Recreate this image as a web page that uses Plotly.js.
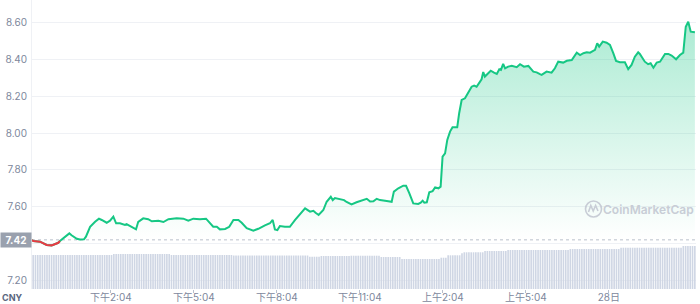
<!DOCTYPE html>
<html>
<head>
<meta charset="utf-8">
<script src="https://cdn.plot.ly/plotly-3.0.1.min.js"></script>
<style>html,body{margin:0;padding:0;background:#fff;}#chart{width:700px;height:304px;}</style>
</head>
<body>
<div id="chart"></div>
<script>
// Hours since 11:13 (27th)
const priceTimes = [
  0, 0.05, 0.29, 0.53, 0.71, 0.95, 1.01, 1.19, 1.35, 1.43,
  1.62, 1.73, 1.88, 1.95, 2.10, 2.28, 2.42, 2.52, 2.70, 2.82,
  2.94, 3.04, 3.18, 3.36, 3.42, 3.60, 3.76, 3.84, 4.02, 4.20,
  4.33, 4.57, 4.75, 4.93, 5.23, 5.47, 5.65, 5.83, 6.07, 6.29,
  6.43, 6.55, 6.68, 6.79, 6.98, 7.13, 7.28, 7.46, 7.58, 7.76,
  8.00, 8.18, 8.42, 8.60, 8.70, 8.78, 8.87, 8.96, 9.14, 9.32,
  9.51, 9.69, 9.87, 10.05, 10.17, 10.25, 10.36, 10.53, 10.65, 10.80,
  10.87, 10.95, 11.13, 11.28, 11.37, 11.55, 11.73, 11.97, 12.10, 12.22,
  12.34, 12.46, 12.58, 12.82, 13.00, 13.08, 13.24, 13.42, 13.52, 13.64,
  13.78, 13.96, 14.05, 14.12, 14.18, 14.27, 14.36, 14.48, 14.57, 14.69,
  14.77, 14.84, 14.93, 15.01, 15.11, 15.20, 15.37, 15.44, 15.53, 15.65,
  15.77, 15.89, 15.98, 16.07, 16.17, 16.25, 16.31, 16.37, 16.49, 16.58,
  16.70, 16.80, 16.89, 16.95, 17.03, 17.10, 17.21, 17.34, 17.52, 17.64,
  17.78, 17.94, 18.12, 18.24, 18.36, 18.42, 18.60, 18.78, 18.90, 19.02,
  19.20, 19.33, 19.51, 19.69, 19.81, 19.93, 20.05, 20.17, 20.35, 20.43,
  20.50, 20.63, 20.77, 20.89, 21.01, 21.11, 21.25, 21.43, 21.55, 21.67,
  21.79, 21.91, 21.97, 22.15, 22.27, 22.36, 22.46, 22.58, 22.70, 22.88,
  23.00, 23.12, 23.28, 23.42, 23.54, 23.63, 23.72, 23.81, 23.96
];
const prices = [
  7.419, 7.414, 7.410, 7.392, 7.390, 7.404, 7.414, 7.434, 7.455, 7.445,
  7.426, 7.422, 7.423, 7.437, 7.491, 7.518, 7.535, 7.528, 7.513, 7.524,
  7.546, 7.510, 7.510, 7.501, 7.506, 7.491, 7.477, 7.518, 7.537, 7.532,
  7.521, 7.524, 7.517, 7.532, 7.537, 7.535, 7.524, 7.535, 7.532, 7.535,
  7.510, 7.491, 7.491, 7.477, 7.479, 7.491, 7.528, 7.528, 7.513, 7.483,
  7.470, 7.480, 7.499, 7.510, 7.528, 7.477, 7.473, 7.495, 7.491, 7.491,
  7.528, 7.559, 7.591, 7.573, 7.578, 7.567, 7.555, 7.582, 7.627, 7.654,
  7.636, 7.647, 7.640, 7.636, 7.626, 7.613, 7.624, 7.636, 7.643, 7.628,
  7.629, 7.643, 7.636, 7.631, 7.627, 7.682, 7.700, 7.714, 7.714, 7.673,
  7.618, 7.615, 7.622, 7.633, 7.622, 7.624, 7.678, 7.685, 7.705, 7.700,
  7.709, 7.872, 7.890, 7.963, 8.008, 8.032, 8.032, 8.108, 8.180, 8.189,
  8.225, 8.252, 8.258, 8.252, 8.274, 8.292, 8.332, 8.307, 8.325, 8.339,
  8.328, 8.321, 8.347, 8.343, 8.376, 8.352, 8.361, 8.366, 8.358, 8.374,
  8.361, 8.365, 8.334, 8.330, 8.320, 8.316, 8.334, 8.328, 8.352, 8.388,
  8.383, 8.393, 8.397, 8.437, 8.424, 8.434, 8.439, 8.437, 8.452, 8.488,
  8.470, 8.497, 8.491, 8.479, 8.434, 8.392, 8.385, 8.385, 8.347, 8.370,
  8.415, 8.439, 8.430, 8.388, 8.374, 8.379, 8.355, 8.383, 8.388, 8.430,
  8.430, 8.421, 8.401, 8.424, 8.437, 8.578, 8.605, 8.551, 8.548
];
const refPrice = 7.42;

// 24h volume per 5-minute slot (亿 CNY)
const volumes = [
  3.40,3.40,3.40,3.40,3.40,3.40,3.40,3.40,3.40,3.40,3.40,3.40,3.40,3.40,3.40,3.40,3.40,3.40,3.40,3.40,
  3.40,3.40,3.40,3.40,3.40,3.40,3.40,3.40,3.40,3.40,3.40,3.40,3.40,3.40,3.40,
  3.50,3.50,3.50,3.50,3.50,3.50,3.50,3.50,3.50,3.50,3.50,3.50,3.50,3.50,3.50,3.50,3.50,3.50,3.50,3.50,
  3.50,3.50,3.50,3.50,3.50,
  3.40,3.40,3.40,3.40,3.40,3.40,3.40,3.40,3.40,3.40,3.40,3.40,3.40,3.40,3.40,3.40,3.40,3.40,3.40,3.40,
  3.40,3.40,3.40,3.40,3.40,3.40,3.40,
  3.35,3.35,3.35,3.35,3.35,3.35,3.35,3.35,3.35,3.35,3.35,3.35,3.35,3.35,3.35,3.35,3.35,3.35,3.35,3.35,
  3.35,3.35,3.35,3.35,3.35,3.35,3.35,3.35,3.35,3.35,3.35,3.35,3.35,
  3.23,3.23,3.23,3.23,3.23,
  3.30,3.30,3.30,3.30,3.30,3.30,3.30,3.30,3.30,3.30,3.30,3.30,3.30,
  3.33,3.33,3.33,3.33,3.33,3.33,3.33,3.33,3.33,3.33,3.33,3.33,3.33,
  3.20,3.20,3.20,3.20,3.20,3.20,3.20,3.20,3.20,
  3.00,3.00,3.00,3.00,3.00,3.00,3.00,3.00,3.00,3.00,3.00,3.00,3.00,3.00,3.00,3.00,3.00,
  3.13,3.13,3.13,
  3.37,3.37,3.37,3.37,3.37,3.37,
  3.57,
  3.67,3.67,3.67,3.67,3.67,3.67,3.67,3.67,3.67,
  3.80,3.80,3.80,3.80,3.80,3.80,3.80,3.80,3.80,3.80,
  3.90,3.90,3.90,3.90,3.90,3.90,3.90,3.90,3.90,3.90,3.90,3.90,3.90,3.90,3.90,3.90,3.90,3.90,3.90,3.90,
  3.90,3.90,3.90,3.90,3.90,3.90,3.90,
  4.00,4.00,4.00,4.00,4.00,4.00,4.00,4.00,4.00,4.00,4.00,4.00,4.00,4.00,4.00,4.00,4.00,4.00,4.00,4.00,
  4.00,4.00,
  4.13,4.13,4.13,4.13,4.13,4.13,4.13,4.13,4.13,4.13,4.13,4.13,4.13,4.13,4.13,4.13,4.13,4.13,4.13,4.13,
  4.13,4.13,4.13,4.13,4.13,4.13,4.13,
  4.30,4.30,4.30,4.30,4.30,4.30
];
// 5-minute slots (hours since start)
const volumeTimes = volumes.map((_, i) => (i + 0.5) / 12);

const xTickVals = [2.85, 5.85, 8.85, 11.85, 14.85, 17.85, 20.85];
const xTickText = ['下午2:04', '下午5:04', '下午8:04', '下午11:04', '上午2:04', '上午5:04', '28日'];
const yTickVals = [7.2, 7.4, 7.6, 7.8, 8.0, 8.2, 8.4, 8.6];
// 7.40 is covered by the current-price tag in the reference
const yTickText = ['7.20', '', '7.60', '7.80', '8.00', '8.20', '8.40', '8.60'];

const GREEN = '#16c784', RED = '#ea3943';
const FONT = "Inter, 'Noto Sans CJK SC', 'DejaVu Sans', sans-serif";

const baseline = prices.map(() => refPrice);
const redPrices = prices.map(p => (p < refPrice ? p : null));

const traces = [
  { x: volumeTimes, y: volumes, type: 'bar', yaxis: 'y2',
    marker: { color: '#cfd6e4', line: { width: 0 } }, hoverinfo: 'skip' },
  { x: priceTimes, y: baseline, type: 'scatter', mode: 'lines',
    line: { width: 0, color: 'rgba(0,0,0,0)' }, hoverinfo: 'skip' },
  { x: priceTimes, y: prices, type: 'scatter', mode: 'lines', fill: 'tonexty',
    line: { color: GREEN, width: 2 },
    fillgradient: { type: 'vertical', start: refPrice, stop: 8.62,
      colorscale: [[0, 'rgba(22,199,132,0.0)'], [1, 'rgba(22,199,132,0.36)']] } },
  { x: priceTimes, y: redPrices, type: 'scatter', mode: 'lines',
    line: { color: RED, width: 2 }, connectgaps: false }
];

// pixel -> paper helpers for decoration (plot: l=32,w=664,t=0,h=289)
const px = v => (v - 32) / 664;
const py = v => (289 - v) / 289;

const layout = {
  width: 700, height: 304,
  margin: { l: 32, r: 4, t: 0, b: 15 },
  paper_bgcolor: '#fff', plot_bgcolor: '#fff',
  showlegend: false,
  bargap: 0.3,
  font: { family: FONT },
  xaxis: {
    range: [0, 24], tickvals: xTickVals, ticktext: xTickText,
    ticks: 'outside', ticklen: 3, tickcolor: '#b8bfcc', tickwidth: 1,
    ticklabelstandoff: -4,
    showgrid: false, zeroline: false, showline: false,
    tickfont: { size: 10, color: '#7d879c', family: FONT }
  },
  yaxis: {
    range: [7.153, 8.723], tickvals: yTickVals, ticktext: yTickText,
    showgrid: true, gridcolor: '#eff1f5', gridwidth: 1,
    zeroline: false, showline: true, linecolor: '#eff1f5',
    ticks: '', ticklabelstandoff: 2,
    tickfont: { size: 10, color: '#7d879c', family: FONT }
  },
  yaxis2: { overlaying: 'y', range: [0, 28.9], visible: false },
  shapes: [
    { type: 'line', xref: 'paper', x0: 0, x1: 1, yref: 'y', y0: refPrice, y1: refPrice,
      line: { color: '#b9c0cc', width: 1, dash: 'dot' }, layer: 'below' },
    { type: 'circle', xref: 'paper', yref: 'paper',
      x0: px(585.5), x1: px(601.5), y0: py(217), y1: py(201),
      line: { color: '#c8cdd6', width: 1.6 } },
    { type: 'path', xref: 'paper', yref: 'paper',
      path: `M ${px(588.5)} ${py(212)} L ${px(590.8)} ${py(205.5)} L ${px(593.2)} ${py(211)} L ${px(595.6)} ${py(205.5)} L ${px(598)} ${py(211)}`,
      line: { color: '#c8cdd6', width: 1.6 } }
  ],
  annotations: [
    { xref: 'paper', x: 0, xanchor: 'right', yref: 'y', y: refPrice, yanchor: 'middle',
      text: '<b>' + refPrice.toFixed(2) + '</b>', showarrow: false,
      bgcolor: '#9aa1ae', width: 28, height: 12, borderpad: 1,
      font: { size: 10, color: '#ffffff', family: FONT } },
    { xref: 'paper', x: 0, xanchor: 'right', xshift: -7, yref: 'paper', y: 0, yanchor: 'top', yshift: -1,
      text: '<b>CNY</b>', showarrow: false,
      font: { size: 9, color: '#58667e', family: FONT } },
    { xref: 'paper', x: px(648.5), xanchor: 'center', yref: 'paper', y: py(209), yanchor: 'middle',
      text: 'CoinMarketCap', showarrow: false,
      font: { size: 12, color: '#c8cdd6', family: FONT, weight: 600 } }
  ]
};

Plotly.newPlot('chart', traces, layout, { staticPlot: true, displayModeBar: false });
</script>
</body>
</html>
